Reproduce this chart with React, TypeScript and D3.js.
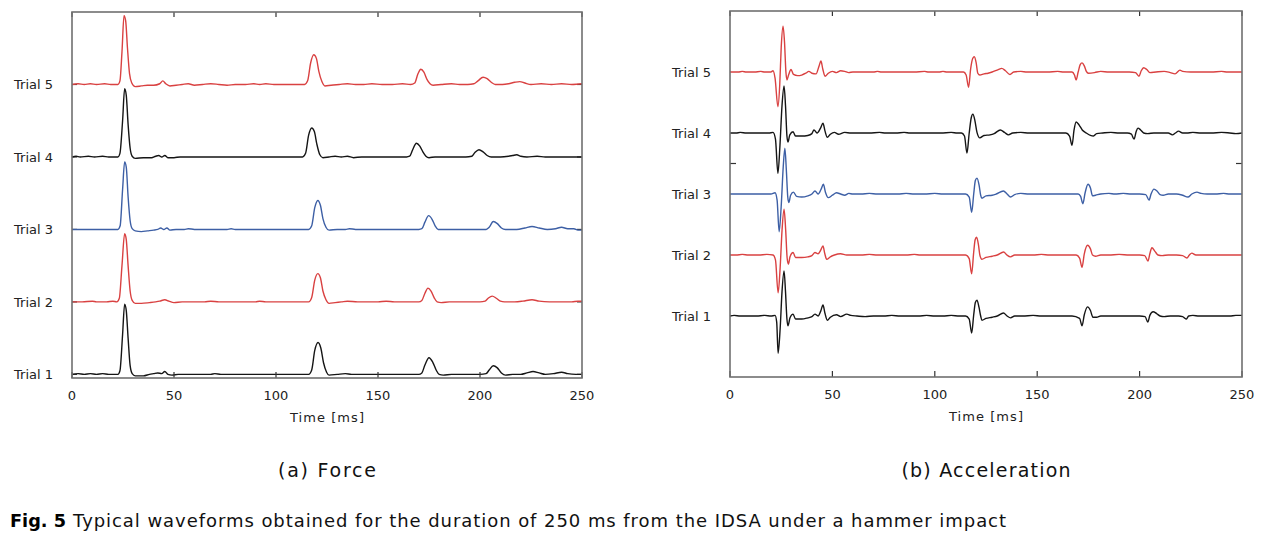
import React from 'react';
import * as d3 from 'd3';

type Pt = [number, number];

const timeTicks = [0, 50, 100, 150, 200, 250];
const trialNames = ['Trial 1', 'Trial 2', 'Trial 3', 'Trial 4', 'Trial 5'];
const trialColors = ['#151515', '#d94141', '#3d5fa5', '#151515', '#d94141'];
const forceOffsets = [0, 1, 2, 3, 4];
const accelOffsets = [1, 2, 3, 4, 5];
const forceYTicks = [0, 1, 2, 3, 4];
const accelYTicks = [3.5];
const panelTitles = ['(a) Force', '(b) Acceleration'];
const xAxisTitle = 'Time [ms]';
const figLabel = 'Fig. 5';
const figCaption = 'Typical waveforms obtained for the duration of 250 ms from the IDSA under a hammer impact';

// ---------- Force waveforms (normalized amplitude) ----------
const forceT1: Pt[] = [[0,0],[3,0.01],[6,0],[9,0.01],[12,0],[15,0.01],[18,0],[22.5,0],[23.5,0.05],[24.8,0.55],[25.8,0.97],[26.6,0.88],[27.5,0.5],[28.5,0.12],[29.5,0.01],[31,-0.02],[35,-0.02],[38,0],[40,0.01],[42,0.02],[44,0.01],[45.5,0.04],[47,0],[49,-0.01],[52,0],[58,0],[64,0],[68,0],[70,0.01],[73,0],[80,0],[86,0],[90,0],[95,0],[100,0],[105,0],[110,0],[116,0],[117.5,0.06],[119,0.33],[120.6,0.44],[122,0.36],[123.3,0.16],[124.8,0.03],[126,-0.01],[130,0],[134,0.01],[137,0],[142,0],[148,0],[155,0],[160,0],[165,0],[170,0],[171.5,0.02],[173,0.13],[175,0.23],[176.8,0.17],[178.5,0.06],[180,0],[182,-0.01],[186,0],[192,0],[197,0],[200,0],[203,0.01],[204.5,0.06],[206.5,0.12],[208.5,0.09],[210.5,0.02],[212.5,-0.01],[216,0],[220,0],[223,0.02],[226,0.04],[229,0.02],[232,0],[236,0.01],[240,0.03],[243,0.01],[247,0],[250,0]];
const forceT2: Pt[] = [[0,0],[5,0],[10,0.01],[12,0],[17,0],[20,0.01],[22,0],[23.2,0.05],[24.5,0.5],[25.8,0.94],[26.6,0.86],[27.5,0.5],[28.5,0.15],[29.5,0.02],[31,-0.02],[34,-0.02],[38,-0.01],[41,0],[43,0.01],[45.5,0.03],[47.5,0.01],[50,-0.01],[54,0],[60,0],[65,0],[68,0.01],[72,0],[78,0],[85,0],[90,0],[92,0.01],[95,0],[100,0],[105,0],[110,0],[116,0],[117.5,0.06],[119,0.3],[120.5,0.39],[121.8,0.33],[123,0.15],[124.5,0.03],[126,-0.02],[129,-0.01],[132,0],[135,0.01],[140,0],[145,0],[150,0],[154,0.01],[158,0],[165,0],[170,0],[171.5,0.02],[173,0.12],[174.5,0.19],[176,0.15],[177.5,0.06],[179,0],[181,-0.01],[185,0],[190,0],[195,0],[200,0],[202.5,0.01],[204,0.05],[206,0.08],[208,0.05],[210,0.01],[212,0],[217,0],[221,0.01],[225.5,0.03],[229,0.01],[234,0],[240,0],[245,0],[248,0.01],[250,0.01]];
const forceT3: Pt[] = [[0,0],[5,0],[10,0],[15,0],[20,0],[22.5,0],[23.6,0.05],[24.8,0.55],[25.8,0.93],[26.6,0.86],[27.5,0.45],[28.5,0.12],[29.5,0.01],[31,-0.02],[34,-0.03],[37,-0.02],[40,-0.01],[42,0],[43.5,0.02],[45,0],[46.5,0.02],[48,-0.01],[51,0],[55,0],[57,0.01],[60,0],[65,0],[70,0],[76,0],[78,0.01],[80,0],[86,0],[90,0],[95,0],[100,0],[105,0],[110,0],[116,0],[117.5,0.05],[119,0.3],[120.5,0.4],[121.8,0.33],[123,0.15],[124.5,0.03],[126,-0.01],[130,0],[134,0],[136,0.01],[139,0],[145,0],[150,0],[155,0],[160,0],[165,0],[170,0],[171.5,0.01],[173,0.1],[174.8,0.19],[176.5,0.14],[178,0.05],[179.5,0],[183,0],[190,0],[195,0],[200,0],[203,0],[204.5,0.03],[206.5,0.11],[208.5,0.08],[210.5,0.02],[212.5,0],[218,0],[222,0.02],[225.5,0.04],[229,0.02],[233,0],[237,0.01],[240,0.03],[243,0.01],[246,0.01],[248,-0.01],[250,-0.01]];
const forceT4: Pt[] = [[0,0],[2,0.01],[4,0],[8,0.01],[11,0],[15,0.01],[18,0],[22.5,0],[23.5,0.05],[24.8,0.5],[25.8,0.94],[26.6,0.85],[27.5,0.45],[28.5,0.12],[29.5,0.01],[31,-0.02],[35,-0.01],[39,-0.01],[41,0.01],[42.5,0.02],[44,0],[45.5,0.02],[47,-0.01],[50,-0.01],[53,0],[57,0],[62,0],[66,0],[70,0],[75,0],[80,0],[85,0],[90,0],[95,0],[100,0],[105,0],[110,0],[113,0],[114.5,0.05],[116,0.3],[117.5,0.4],[118.8,0.35],[120,0.18],[121.5,0.03],[123,-0.01],[126,0],[129,0.01],[132,0],[135,0.01],[138,-0.01],[142,0],[148,0],[154,0],[160,0],[164,0],[165.5,0.01],[167,0.1],[168.8,0.19],[170.5,0.15],[172,0.07],[173.5,0.01],[175,-0.01],[178,0],[183,0],[188,0],[193,0],[196,0.01],[197.5,0.06],[199.5,0.1],[201.5,0.07],[203.5,0.02],[205.5,0],[210,0],[214,0.01],[216,0.02],[218,0.03],[220,0.01],[223,0],[228,0.01],[232,0],[238,0],[244,0],[250,0]];
const forceT5: Pt[] = [[0,0],[3,0.01],[6,0],[9,0.01],[12,0],[16,0.01],[19,0],[22.5,0],[23.5,0.05],[24.5,0.45],[25.5,0.95],[26.3,0.88],[27.2,0.5],[28.2,0.15],[29.3,0.02],[31,-0.03],[34,-0.02],[37,-0.01],[40,-0.01],[43,0.01],[44.5,0.05],[46,0.01],[48,-0.02],[51,-0.01],[54,0],[57,0.01],[60,-0.01],[64,0],[68,0.01],[72,0],[76,-0.01],[80,0],[85,0],[89,0.01],[92,0],[95,0.01],[99,0],[105,0],[110,0],[114,0],[115.5,0.05],[117,0.3],[118.5,0.41],[119.8,0.36],[121,0.18],[122.5,0.04],[124,-0.02],[127,-0.01],[131,0],[135,0.01],[139,0],[143,0],[147,0.01],[152,0],[157,0],[162,0.01],[166,0],[168,0.02],[169.5,0.14],[171,0.21],[172.5,0.17],[174,0.07],[175.5,0.01],[177,-0.01],[181,0],[186,0.01],[190,0],[194,0],[197,0.01],[199,0.05],[201.5,0.1],[203.5,0.08],[205.5,0.03],[207.5,0],[211,0],[214,0.01],[217,0.03],[219.5,0.04],[222,0.02],[225,0],[230,0.01],[235,0],[240,0.01],[245,0],[250,0.01]];

// ---------- Acceleration waveforms (normalized amplitude) ----------
const accelT1: Pt[] = [[0,0],[2,0.01],[5,0],[9,0],[13,0],[17,0.01],[20,0],[22,0.01],[22.8,-0.1],[23.5,-0.61],[24.5,-0.2],[25.4,0.4],[26.4,0.74],[27.1,0.4],[27.8,-0.05],[28.3,-0.16],[29.3,-0.03],[30.8,0.03],[32,-0.05],[35,-0.05],[38,-0.03],[40,-0.01],[41.5,0.03],[43,0],[44.3,0.08],[45.4,0.18],[46.4,0.04],[47.5,-0.07],[49,-0.02],[52,0.02],[54,-0.01],[57,0.03],[59,0.01],[62,0],[66,-0.01],[70,0],[75,0],[79,0.01],[83,0],[88,0],[92,0],[96,0.01],[100,0],[104,0],[108,0.01],[112,0],[115,0],[116.8,-0.05],[118,-0.28],[119,0.02],[119.8,0.22],[120.6,0.26],[121.6,0.14],[122.4,0],[123,-0.07],[125,-0.04],[128,-0.02],[130.5,0],[133.5,0.05],[135.3,0],[137,-0.03],[139,0],[143,0],[148,0.01],[152,0],[158,0],[163,0],[167,0],[170.7,-0.04],[171.9,-0.16],[173,0.02],[174.6,0.15],[176,0.09],[177.2,-0.02],[179,-0.02],[181,0],[186,0],[190,0],[195,0],[200,0],[202.7,-0.01],[204,-0.1],[205,0.01],[206.6,0.07],[208.3,0.04],[210,0],[212,-0.01],[215,0],[219,0],[221,-0.01],[222.7,-0.05],[224,0],[226,0.01],[229,0],[234,0],[239,0],[244,0],[247,0.01],[250,0.01]];
const accelT2: Pt[] = [[0,0],[3,0],[6,0.01],[9,0],[14,0],[18,0.01],[21,0],[22.2,-0.08],[23.5,-0.62],[24.5,-0.2],[25.4,0.4],[26.4,0.75],[27.2,0.4],[27.9,-0.05],[28.5,-0.15],[29.3,-0.03],[30.8,0.04],[32,-0.04],[35,-0.04],[38,-0.03],[40,-0.01],[41.5,0.04],[43,0.02],[44.3,0.08],[45.4,0.15],[46.3,0.02],[47.2,-0.07],[49,-0.03],[51,0],[54,0.02],[57,0],[60,0],[64,0],[68,0.01],[72,0],[76,0],[80,0],[86,0],[90,0.01],[93,0],[98,0],[103,0],[108,0],[112,0],[115,0],[116.8,-0.06],[118,-0.31],[119,0.05],[119.7,0.25],[120.4,0.29],[121.3,0.17],[122,0],[123,-0.07],[125,-0.04],[128,-0.02],[130.5,0],[133.6,0.05],[135.2,0],[137,-0.03],[139,0],[143,0],[148,0],[152,0.01],[156,0],[162,0],[166,0],[169,0],[170.7,-0.05],[171.9,-0.2],[173,0.02],[174.6,0.16],[176,0.1],[177,0],[178.5,-0.02],[181,0],[185,0],[190,0.01],[195,0],[200,0],[202.5,-0.01],[204.1,-0.1],[205,0.02],[206,0.12],[207.5,0.06],[209,0],[211,-0.01],[214,0],[218,0],[221,-0.01],[223.1,-0.05],[224.3,0],[225.5,0.03],[227.5,0],[231,0],[236,0],[241,0],[245,0],[250,0]];
const accelT3: Pt[] = [[0,0],[4,0],[8,0],[12,0],[16,0],[20,0],[22,0.02],[23,-0.1],[24,-0.62],[25,-0.2],[26,0.45],[26.8,0.75],[27.5,0.4],[28.2,-0.05],[28.7,-0.14],[29.6,-0.02],[31,0.03],[32.5,-0.04],[35,-0.05],[38,-0.03],[40,0],[41.5,0.05],[43,0],[44.5,0.08],[45.6,0.16],[46.6,0.03],[48,-0.06],[50,-0.02],[52,0.02],[54,0],[56,-0.02],[58,0.01],[60,0],[64,0],[68,0.01],[72,0],[77,0],[82,0],[86,0.01],[90,0],[95,0],[100,0.01],[104,0],[110,0],[115,0],[116.8,-0.05],[118,-0.3],[119,0],[119.8,0.22],[120.6,0.26],[121.6,0.15],[122.4,-0.02],[123,-0.07],[125,-0.03],[128,-0.02],[130,0],[133.5,0.05],[135.3,0],[137,-0.05],[139,-0.01],[142,0.01],[146,0],[150,0],[155,0],[160,0],[165,0],[170,0],[171.2,-0.04],[172.3,-0.16],[173.4,0.02],[174.8,0.16],[176,0.1],[177,-0.03],[178.5,-0.02],[181,0],[185,0.01],[188,0],[192,0.01],[196,0],[200,0],[203,-0.01],[204.6,-0.1],[205.6,0],[207,0.08],[208.5,0.05],[210,-0.01],[211.5,-0.02],[214,0],[218,0],[221,-0.02],[223.6,-0.05],[225.5,0],[228,0.03],[230,0.01],[233,0],[237,0],[241,0.01],[244,0],[250,0]];
const accelT4: Pt[] = [[0,0],[3,0],[5,0.01],[8,0],[12,0],[16,0],[19,0],[21,0.01],[22.2,-0.1],[23.4,-0.66],[24.4,-0.2],[25.4,0.45],[26.4,0.77],[27.1,0.45],[27.8,-0.05],[28.3,-0.15],[29.2,-0.03],[30.8,0.02],[32,-0.05],[35,-0.05],[38,-0.04],[40,-0.01],[41,0.05],[42.5,0],[44.2,0.08],[45.4,0.16],[46.4,0.03],[47.5,-0.07],[49,-0.02],[51,0.01],[53,-0.02],[56,0.01],[59,0],[63,0],[68,0],[73,0.01],[76,0],[81,0],[85,0.01],[88,0],[93,0],[98,0],[103,0],[108,0.01],[111,0],[113,0],[114.5,-0.05],[115.7,-0.33],[116.8,0],[117.8,0.25],[118.6,0.31],[119.6,0.2],[120.6,0.01],[122,-0.08],[124,-0.04],[127,-0.03],[129,-0.01],[132,0.05],[134,0.01],[136,-0.03],[138,0],[142,0.01],[146,0],[150,0],[155,0],[160,0],[164,0],[165.8,-0.05],[167,-0.2],[168,0.05],[169,0.18],[170.5,0.13],[172,0.05],[174,0],[176,-0.04],[177.5,-0.05],[179,-0.01],[182,0],[186,0.01],[190,0],[194,0],[196,-0.02],[197.3,-0.1],[198.3,0.02],[199.2,0.08],[200.5,0.05],[202,0],[204,-0.01],[207,0],[210,0],[214,0],[216,-0.03],[217.5,0],[219,0.03],[221,0],[223,0],[226,0.01],[230,0],[235,0],[240,0.01],[244,0],[247,-0.01],[250,0]];
const accelT5: Pt[] = [[0,0],[4,0],[6,0.01],[8,0],[12,0],[15,0.01],[17,0],[20,0],[21,0.02],[22,-0.1],[23.4,-0.57],[24.3,-0.2],[25,0.4],[25.9,0.75],[26.6,0.5],[27.3,0],[27.8,-0.13],[28.6,-0.05],[29.8,0.04],[31,-0.04],[33,-0.06],[35,-0.05],[37,-0.02],[38.5,0.01],[40,-0.02],[42,-0.03],[43.5,0.1],[44.4,0.18],[45.3,0.05],[46.4,-0.07],[48,-0.02],[50,0.01],[52,-0.01],[54,0.02],[56,0.01],[58,-0.01],[60,0],[65,0],[70,0],[72,0.01],[74,0],[80,0],[85,0],[90,0],[95,0.01],[97,0],[102,0],[104,0.01],[106,0],[110,0],[114,0],[115.3,-0.05],[116.5,-0.25],[117.5,0.05],[118.5,0.22],[119.3,0.25],[120.2,0.15],[121,-0.02],[122,-0.05],[124,-0.03],[126,-0.02],[128,0],[131,0.04],[132.7,0.06],[134.5,0.02],[136.7,-0.04],[138.5,0],[142,0.01],[145,0],[150,0],[155,0],[160,0.01],[163,0],[167,0],[168.2,-0.05],[169,-0.13],[170,0],[171,0.12],[171.9,0.15],[173,0.1],[174,0.01],[175,-0.02],[178,-0.01],[181,0.01],[185,0],[190,0],[195,0],[198,-0.01],[199.7,-0.07],[200.8,0.02],[202,0.07],[203.5,0.04],[205,-0.01],[208,0],[212,0.01],[215,-0.01],[217.3,-0.03],[219.7,0.03],[221,0.01],[225,0],[230,0],[235,0],[240,0.01],[243,0],[250,0]];

const forceSeries = [forceT1, forceT2, forceT3, forceT4, forceT5];
const accelSeries = [accelT1, accelT2, accelT3, accelT4, accelT5];

const FONT = 'DejaVu Sans, Verdana, sans-serif';
const FRAME = '#707070';

interface PanelProps {
  left: number; right: number; top: number; bottom: number;
  yDomain: [number, number];
  series: Pt[][];
  offsets: number[];
  yTicks: number[];
  tickLen: number;
  title: string;
  titleY: number;
  titleLen: number;
}

function Panel(p: PanelProps) {
  const x = d3.scaleLinear().domain([0, 250]).range([p.left, p.right]);
  const y = d3.scaleLinear().domain(p.yDomain).range([p.bottom, p.top]);
  const midX = (p.left + p.right) / 2;
  return (
    <g>
      {p.yTicks.map((v, i) => (
        <g key={'yt' + i}>
          <line x1={p.left} x2={p.left + p.tickLen} y1={y(v)} y2={y(v)} stroke="#333" strokeWidth={1.2} />
          <line x1={p.right - p.tickLen} x2={p.right} y1={y(v)} y2={y(v)} stroke="#333" strokeWidth={1.2} />
        </g>
      ))}
      {p.series.map((s, i) => {
        const line = d3.line<Pt>()
          .x(d => x(d[0]))
          .y(d => y(d[1] + p.offsets[i]))
          .curve(d3.curveMonotoneX);
        return <path key={'s' + i} d={line(s) || ''} fill="none" stroke={trialColors[i]} strokeWidth={1.4} strokeLinejoin="round" />;
      })}
      {trialNames.map((n, i) => (
        <text key={'lab' + i} x={p.left - 19} y={y(p.offsets[i])} dy="0.36em" textAnchor="end"
          fontFamily={FONT} fontSize={13} fill="#222">{n}</text>
      ))}
      {timeTicks.map((t, i) => (
        <g key={'xt' + i}>
          <line x1={x(t)} x2={x(t)} y1={p.bottom} y2={p.bottom - 6} stroke="#333" strokeWidth={1.2} />
          <line x1={x(t)} x2={x(t)} y1={p.top} y2={p.top + 5} stroke="#333" strokeWidth={1.2} />
          <text x={x(t)} y={p.bottom + 22} textAnchor="middle" fontFamily={FONT} fontSize={13} fill="#222">{t}</text>
        </g>
      ))}
      <rect x={p.left} y={p.top} width={p.right - p.left} height={p.bottom - p.top} fill="none" stroke={FRAME} strokeWidth={1.6} />
      <text x={midX} y={p.bottom + 44} textAnchor="middle" fontFamily={FONT} fontSize={13} fill="#222"
        textLength={74} lengthAdjust="spacing">{xAxisTitle}</text>
      <text x={midX} y={p.titleY} textAnchor="middle" fontFamily={FONT} fontSize={19} fill="#111"
        textLength={p.titleLen} lengthAdjust="spacing">{p.title}</text>
    </g>
  );
}

export default function App() {
  return (
    <svg width={1272} height={535} style={{ position: 'absolute', left: 0, top: 0, background: '#fff' }}>
      <rect width={1272} height={535} fill="#fff" />
      <Panel left={72} right={582} top={12} bottom={378} yDomain={[-0.05, 5]}
        series={forceSeries} offsets={forceOffsets} yTicks={forceYTicks} tickLen={5}
        title={panelTitles[0]} titleY={477} titleLen={98} />
      <Panel left={730} right={1242} top={11} bottom={377} yDomain={[0, 6]}
        series={accelSeries} offsets={accelOffsets} yTicks={accelYTicks} tickLen={6}
        title={panelTitles[1]} titleY={477} titleLen={169} />
      <text x={10} y={527} fontFamily={FONT} fontSize={18} fontWeight="bold" fill="#000"
        textLength={56} lengthAdjust="spacingAndGlyphs">{figLabel}</text>
      <text x={73} y={527} fontFamily={FONT} fontSize={18} fill="#111"
        textLength={933} lengthAdjust="spacing">{figCaption}</text>
    </svg>
  );
}
